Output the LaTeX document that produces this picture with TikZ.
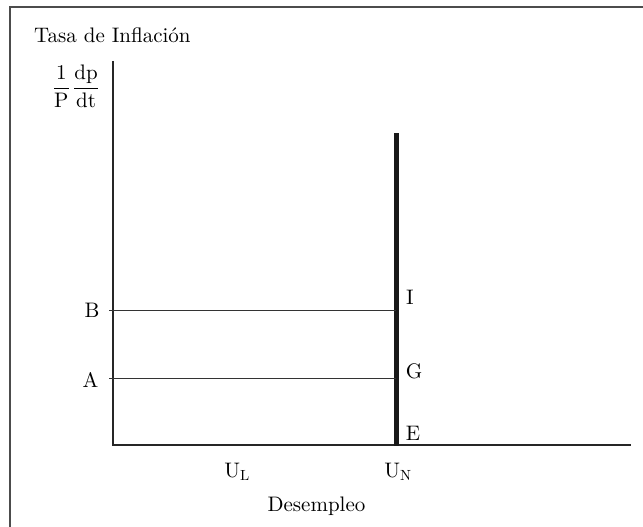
\documentclass[tikz,border=0pt]{standalone}
\usepackage{fontspec}
\setmainfont{lmroman10-regular.otf}
\begin{document}
\begin{tikzpicture}[x=1pt,y=-1pt,
  lbl/.style={inner sep=0pt,anchor=base,font=\fontsize{21}{25}\selectfont},
  axisline/.style={line width=1.2pt,black!85},
  guide/.style={line width=1pt,black!80},
  vertical/.style={line width=4.4pt,black!90},
  frameline/.style={line width=2pt,black!70}]
\useasboundingbox (0,0) rectangle (643,527);
% frame
\coordinate (fbl) at (10,527);
\coordinate (ftl) at (10,7);
\coordinate (ftr) at (643,7);
\draw[frameline] (fbl) -- (ftl) -- (ftr);
% axes
\coordinate (ytop) at (113,61);
\coordinate (o) at (113,445);
\coordinate (xend) at (631,445);
\draw[axisline] (ytop) -- (o) -- (xend);
% vertical long-run line
\coordinate (vtop) at (396.5,133);
\coordinate (vbot) at (396.5,445.6);
\draw[vertical] (vtop) -- (vbot);
% horizontal guides
\coordinate (bl) at (109,310);
\coordinate (br) at (396,310);
\coordinate (al) at (109,378);
\coordinate (ar) at (396,378);
\draw[guide] (bl) -- (br);
\draw[guide] (al) -- (ar);
% labels
\node[lbl,anchor=base west] (title) at (34,43) {Tasa de Inflación};
\node[lbl,anchor=center] (frac) at (76,86) {$\displaystyle\mathrm{\frac{1}{P}\,\frac{dp}{dt}}$};
\node[lbl] (B) at (92,317) {B};
\node[lbl] (A) at (90.5,387) {A};
\node[lbl] (I) at (410,304) {I};
\node[lbl] (G) at (414,378) {G};
\node[lbl] (E) at (413,440) {E};
\node[lbl] (UL) at (237,477) {U$_{\mathrm{L}}$};
\node[lbl] (UN) at (398,477) {U$_{\mathrm{N}}$};
\node[lbl] (des) at (316.5,511) {Desempleo};
\end{tikzpicture}
\end{document}
